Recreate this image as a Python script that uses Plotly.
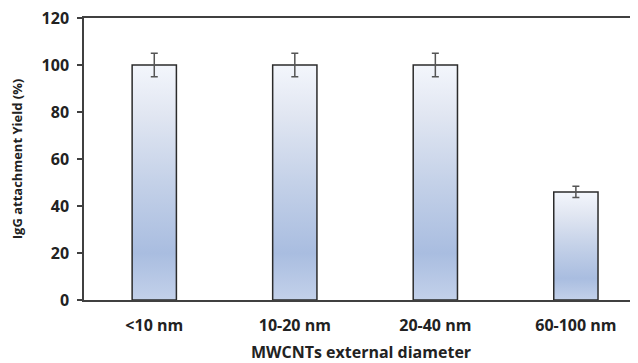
import plotly.graph_objects as go

categories = ["<10 nm", "10-20 nm", "20-40 nm", "60-100 nm"]
yields = [100, 100, 100, 46]
errors = [5, 5, 5, 2.4]
y_ticks = [0, 20, 40, 60, 80, 100, 120]

BAR_W = 0.315
FONT = "Open Sans"
grad = [[0.0, "#c3d1ea"], [0.2, "#a9bde0"], [0.5, "#c4d1e8"], [0.8, "#e2e7f2"], [1.0, "#f3f6fc"]]

fig = go.Figure()
for i, v in enumerate(yields):
    x0, x1 = i - BAR_W / 2, i + BAR_W / 2
    fig.add_trace(go.Scatter(
        x=[x0, x1, x1, x0, x0], y=[0, 0, v, v, 0],
        mode="lines", fill="toself",
        fillgradient=dict(type="vertical", colorscale=grad),
        line=dict(color="#2b2b2b", width=1.5),
        showlegend=False, hoverinfo="skip",
    ))

fig.add_trace(go.Scatter(
    x=list(range(len(categories))), y=yields, mode="markers",
    marker=dict(size=1, color="rgba(0,0,0,0)"),
    error_y=dict(type="data", array=errors, color="#555555", thickness=1.5, width=3.5),
    showlegend=False,
))

def fnt(size):
    return dict(family=FONT, size=size, color="#222222", weight="bold")

# the page body adds an 8px offset, so the figure is sized/margined to compensate
fig.update_layout(
    width=630, height=355,
    margin=dict(l=76, r=0, t=10, b=63, autoexpand=False),
    plot_bgcolor="white", paper_bgcolor="white",
    font=fnt(15),
)
fig.update_xaxes(
    range=[-0.5, 3.442], tickvals=list(range(len(categories))), ticktext=categories,
    showgrid=False, zeroline=False, showline=True, mirror=True, linecolor="#404040", linewidth=1.5,
    ticks="", tickfont=fnt(16), automargin=False, ticklabelstandoff=10,
    title=dict(text="MWCNTs external diameter", standoff=12, font=fnt(16)),
)
fig.update_yaxes(
    range=[0, 120], tickvals=y_ticks, showgrid=False, zeroline=False,
    showline=True, linecolor="#404040", linewidth=1.5,
    ticks="outside", ticklen=5, tickcolor="#404040", tickwidth=1.5,
    tickfont=fnt(16), automargin=False, ticklabelstandoff=5, ticklabeloverflow="allow",
    title=dict(text="IgG attachment Yield (%)", standoff=18, font=fnt(13)),
)

fig.write_html("out.html")
